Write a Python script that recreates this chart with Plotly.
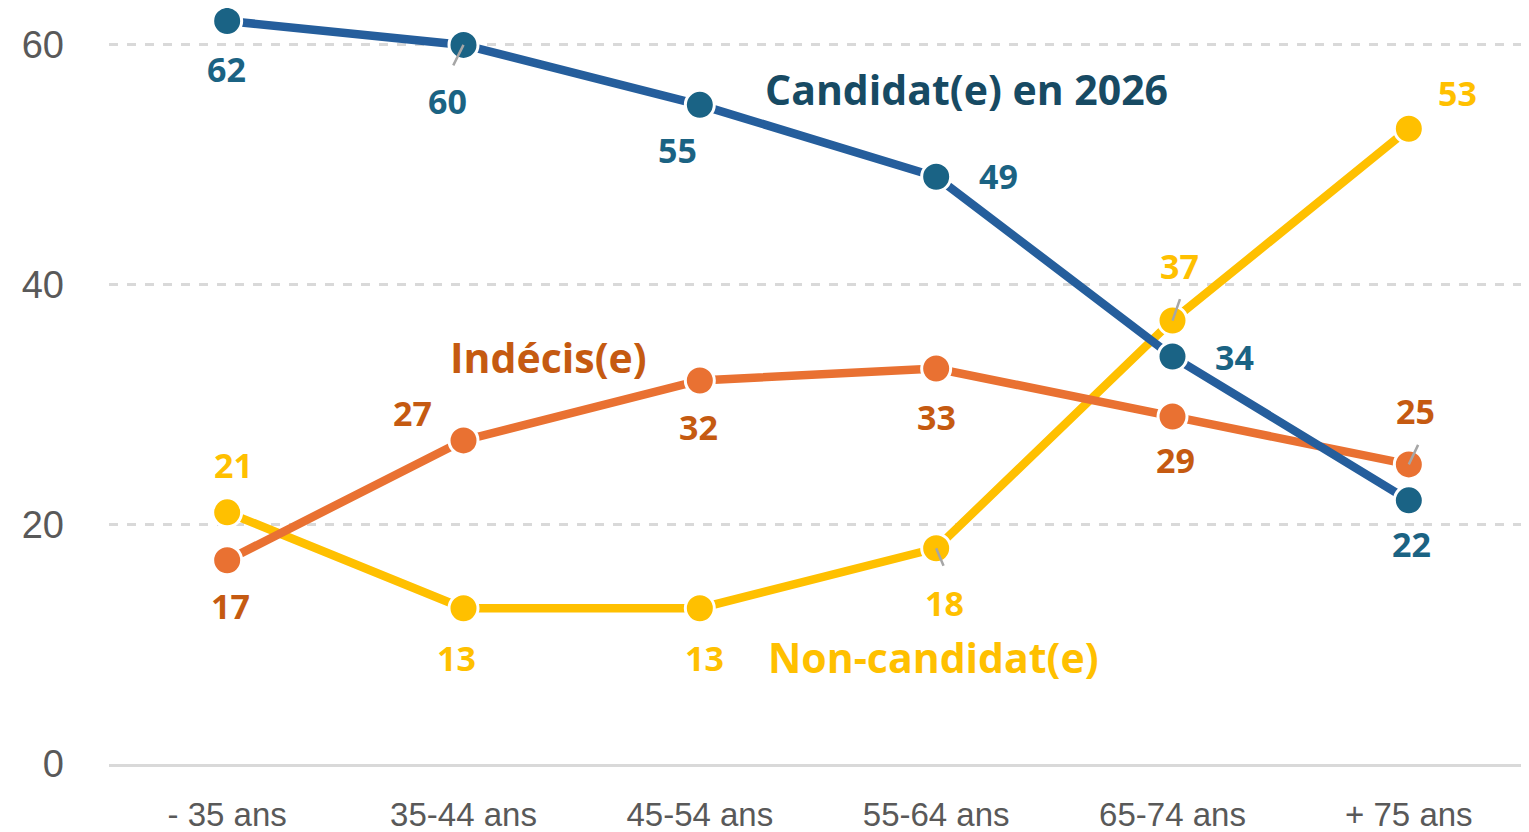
import plotly.graph_objects as go

categories = ["- 35 ans", "35-44 ans", "45-54 ans", "55-64 ans", "65-74 ans", "+ 75 ans"]
candidat = [62, 60, 55, 49, 34, 22]
indecis = [17, 27, 32, 33, 29, 25]
non_candidat = [21, 13, 13, 18, 37, 53]
y_ticks = [0, 20, 40, 60]

series = [
    # name, values, line color, marker color, label color, label offsets (px), leader lines (px)
    dict(name="Non-candidat(e)", y=non_candidat, line="#FFC000", marker="#FFC000", label="#FFC000",
         off=[(6, 47), (-7, -50), (5, -50), (8, -55), (7, 55), (49, 36)],
         leaders={3: (8, 19), 4: (8, -23)}),
    dict(name="Indécis(e)", y=indecis, line="#E97132", marker="#E97132", label="#C55A11",
         off=[(3, -46), (-51, 27), (-1, -47), (0, -48), (3, -44), (7, 53)],
         leaders={5: (10, -21)}),
    dict(name="Candidat(e) en 2026", y=candidat, line="#255E9C", marker="#1A6385", label="#1B6383",
         off=[(-1, -48), (-16, -56), (-22, -45), (62, 1), (62, 0), (3, -44)],
         leaders={1: (-11, 22)}),
]

fig = go.Figure()
xs = list(range(len(categories)))
for s in series:
    fig.add_trace(go.Scatter(
        x=xs, y=s["y"], mode="lines+markers", name=s["name"],
        line=dict(color=s["line"], width=8.5),
        marker=dict(color=s["marker"], size=29, line=dict(color="white", width=3)),
        cliponaxis=False, showlegend=False, hoverinfo="skip"))

label_font = "'Open Sans', 'Noto Sans', sans-serif"
for s in series:
    for i, v in enumerate(s["y"]):
        for_leader = s["leaders"].get(i)
        if for_leader:
            fig.add_annotation(x=i, y=v, text="", showarrow=True, arrowhead=0,
                               arrowwidth=2.5, arrowcolor="#A6A6A6",
                               ax=for_leader[0], ay=for_leader[1], standoff=0)
        dx, dy = s["off"][i]
        fig.add_annotation(x=i, y=v, text=str(v), showarrow=False,
                           xshift=dx, yshift=dy,
                           font=dict(family=label_font, size=34, color=s["label"], weight="bold"))

# series names
fig.add_annotation(x=3.13, y=56.3, text="Candidat(e) en 2026", showarrow=False,
                   font=dict(family=label_font, size=41, color="#174A63", weight="bold"))
fig.add_annotation(x=1.36, y=34.0, text="Indécis(e)", showarrow=False,
                   font=dict(family=label_font, size=41, color="#C55A11", weight="bold"))
fig.add_annotation(x=2.99, y=8.92, text="Non-candidat(e)", showarrow=False,
                   font=dict(family=label_font, size=41, color="#FFC000", weight="bold"))

# page body has an 8px margin; size the figure so the plot lands where the reference has it
fig.update_layout(
    width=1521, height=824,
    margin=dict(l=101, r=2, t=0, b=68),
    plot_bgcolor="white", paper_bgcolor="white",
    xaxis=dict(
        range=[-0.5, 5.5], tickmode="array", tickvals=xs, ticktext=categories,
        showgrid=False, zeroline=False, showline=True, linecolor="#D9D9D9", linewidth=2.5,
        ticks="", ticklabelstandoff=20, automargin=False,
        tickfont=dict(family="'Liberation Sans Narrow', 'Liberation Sans', sans-serif", size=33, color="#595959"),
    ),
    yaxis=dict(
        range=[0, 63.08], tickmode="array", tickvals=y_ticks,
        showgrid=True, gridcolor="#D9D9D9", gridwidth=2.5, griddash="dash",
        zeroline=False, showline=False, ticks="", ticklabelstandoff=44, automargin=False,
        tickfont=dict(family="'Liberation Sans Narrow', 'Liberation Sans', sans-serif", size=38, color="#595959"),
    ),
)

fig.write_html("out.html")
